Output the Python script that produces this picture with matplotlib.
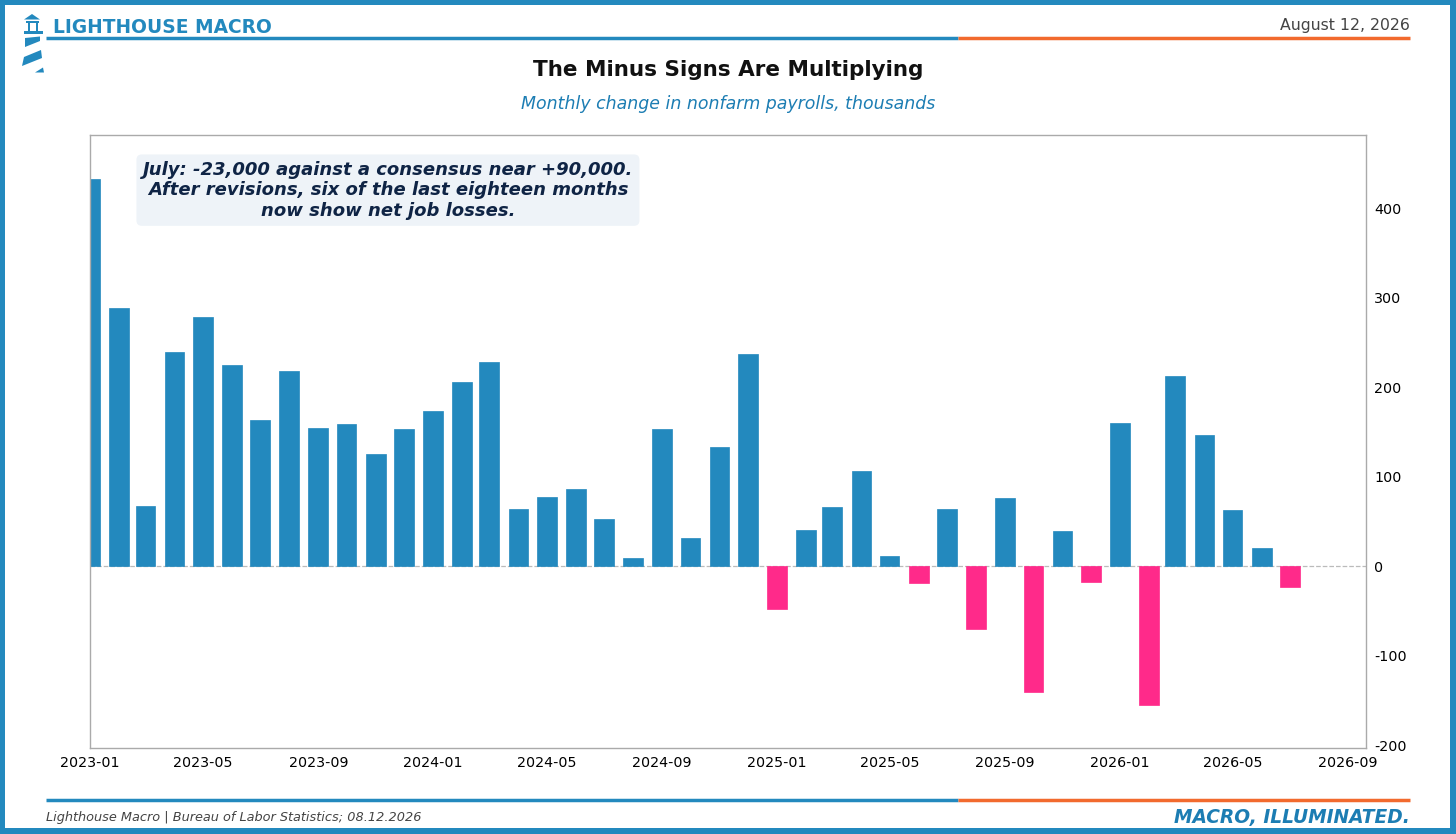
import matplotlib
matplotlib.use("Agg")
import matplotlib.pyplot as plt
import matplotlib.dates as mdates
from matplotlib.patches import Rectangle, Polygon
import pandas as pd

plt.rcParams['font.family'] = ['DejaVu Sans']
plt.rcParams['axes.unicode_minus'] = False

# datos: cambio mensual de nóminas no agrícolas (miles)
meses = pd.date_range('2023-01-01', periods=43, freq='MS')
valores = [433, 289, 67, 240, 279, 225, 163, 218, 155, 159, 126, 153,
           174, 206, 228, 64, 77, 86, 53, 9, 154, 32, 133, 237,
           -48, 41, 66, 107, 12, -19, 64, -70, 76, -140, 40, -17,
           160, -155, 213, 147, 63, 20, -23]
yticks = [-200, -100, 0, 100, 200, 300, 400]

AZUL = '#2389be'
ROSA = '#ff2a8a'
NARANJA = '#f26a2e'
W, H = 1456, 834

fig = plt.figure(figsize=(W / 100, H / 100), dpi=100)
fig.patch.set_facecolor('white')

# capa de fondo en pixeles para decoraciones
bg = fig.add_axes([0, 0, 1, 1], zorder=0)
bg.set_xlim(0, W)
bg.set_ylim(H, 0)
bg.axis('off')

# marco
for r in [(0, 0, W, 5), (0, 0, 5, H), (W - 6, 0, 6, H), (0, H - 6, W, 6)]:
    bg.add_patch(Rectangle((r[0], r[1]), r[2], r[3], color=AZUL, lw=0))

# faro
bg.add_patch(Polygon([(24, 19.5), (32, 14), (40, 19.5)], color=AZUL, lw=0))
bg.add_patch(Rectangle((26, 20.5), 13, 2.2, color=AZUL, lw=0))
bg.add_patch(Rectangle((27.5, 22.5), 2.6, 8, color=AZUL, lw=0))
bg.add_patch(Rectangle((35.5, 22.5), 2.6, 8, color=AZUL, lw=0))
bg.add_patch(Rectangle((23.5, 30.5), 19, 3.3, color=AZUL, lw=0))
bg.add_patch(Polygon([(25, 38), (40, 36.5), (40, 41), (25, 47)], color=AZUL, lw=0))
bg.add_patch(Polygon([(24, 57), (41, 50), (42, 58), (22, 66)], color=AZUL, lw=0))
bg.add_patch(Polygon([(35, 72.5), (43, 67.5), (44, 72.5)], color=AZUL, lw=0))

bg.text(53, 27, 'LIGHTHOUSE MACRO', color=AZUL, fontsize=13.4, fontweight='bold',
        ha='left', va='center')
bg.text(1410, 25, 'August 12, 2026', color='#444444', fontsize=11.3,
        ha='right', va='center')
bg.plot([46, 958], [38, 38], color=AZUL, lw=2.5, solid_capstyle='butt')
bg.plot([958, 1410], [38, 38], color=NARANJA, lw=2.5, solid_capstyle='butt')

bg.text(728, 70, 'The Minus Signs Are Multiplying', fontsize=15.5, fontweight='bold',
        color='#111111', ha='center', va='center')
bg.text(728, 104, 'Monthly change in nonfarm payrolls, thousands', fontsize=12.5,
        style='italic', color='#1c7db3', ha='center', va='center')

bg.plot([46, 958], [800, 800], color=AZUL, lw=2.5, solid_capstyle='butt')
bg.plot([958, 1410], [800, 800], color=NARANJA, lw=2.5, solid_capstyle='butt')
bg.text(46, 818, 'Lighthouse Macro | Bureau of Labor Statistics; 08.12.2026',
        fontsize=9.3, style='italic', color='#444444', ha='left', va='center')
bg.text(1410, 818, 'MACRO, ILLUMINATED.', fontsize=13.4, fontweight='bold',
        style='italic', color='#1c7db3', ha='right', va='center')

# grafico principal
ax = fig.add_axes([90 / W, 1 - 748 / H, (1366 - 90) / W, (748 - 135) / H], zorder=1)
colores = [AZUL if v >= 0 else ROSA for v in valores]
ax.bar(meses, valores, width=21, color=colores, edgecolor=colores, linewidth=0.5, zorder=2)
ax.axhline(0, color='#bbbbbb', ls='--', lw=0.9, zorder=1)

ax.set_xlim(pd.Timestamp('2023-01-01'), pd.Timestamp('2026-09-20'))
ax.set_ylim(-203, 482)
ax.xaxis.set_major_locator(mdates.MonthLocator(bymonth=[1, 5, 9]))
ax.xaxis.set_major_formatter(mdates.DateFormatter('%Y-%m'))
ax.yaxis.tick_right()
ax.set_yticks(yticks)
ax.tick_params(axis='both', length=0, labelsize=10.3, pad=6)
for s in ax.spines.values():
    s.set_color('#aaaaaa')
    s.set_linewidth(1)

ax.text(0.2335, 0.958,
        'July: -23,000 against a consensus near +90,000.\n'
        'After revisions, six of the last eighteen months\n'
        'now show net job losses.',
        transform=ax.transAxes, ha='center', va='top', fontsize=13,
        fontweight='bold', style='italic', color='#0f2445', linespacing=1.17,
        bbox=dict(boxstyle='round,pad=0.35,rounding_size=0.3', facecolor='#eef3f8',
                  edgecolor='none'))

fig.savefig('out.png', dpi=100)
